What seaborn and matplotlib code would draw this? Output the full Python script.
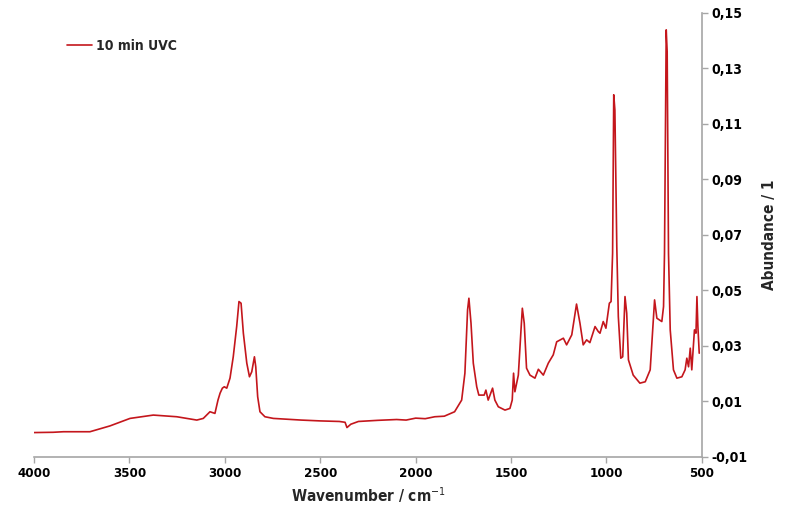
import seaborn as sns
import matplotlib.pyplot as plt
import pandas as pd

# spectrum
wavenumber = [4000, 3900, 3846, 3707, 3602, 3497, 3375, 3252, 3147, 3113, 3078, 3052, 3036,
              3025, 3013, 3003, 2990, 2973, 2956, 2938, 2926, 2915, 2903, 2885, 2871, 2859,
              2845, 2838, 2828, 2816, 2790, 2746, 2600, 2500, 2400, 2370, 2360, 2340, 2300,
              2200, 2100, 2050, 2000, 1950, 1900, 1850, 1796, 1759, 1742, 1728, 1721, 1710,
              1698, 1680, 1669, 1641, 1632, 1620, 1597, 1585, 1567, 1532, 1506, 1494, 1487,
              1480, 1462, 1448, 1441, 1431, 1419, 1401, 1375, 1357, 1331, 1305, 1279, 1261,
              1226, 1209, 1182, 1157, 1139, 1122, 1104, 1087, 1060, 1043, 1034, 1017, 1003,
              985, 976, 968, 962, 956, 946, 938, 925, 915, 903, 894, 885, 860, 825, 797,
              771, 759, 748, 736, 710, 701, 696, 687, 682, 675, 666, 649, 631, 605, 588,
              579, 570, 561, 553, 539, 531, 526, 521, 514]
absorbance = [-0.0012, -0.0011, -0.0009, -0.0009, 0.0012, 0.0039, 0.0051, 0.0045, 0.0033, 0.0039, 0.0063, 0.0057, 0.0105,
              0.0130, 0.0148, 0.0153, 0.0148, 0.0184, 0.0261, 0.0370, 0.0460, 0.0454, 0.0346, 0.0238, 0.0189, 0.0207,
              0.0261, 0.0225, 0.0117, 0.0063, 0.0045, 0.0039, 0.0033, 0.0030, 0.0028, 0.0025, 0.0006, 0.0018, 0.0028,
              0.0032, 0.0035, 0.0033, 0.0040, 0.0038, 0.0045, 0.0047, 0.0063, 0.0105, 0.0202, 0.0430, 0.0472, 0.0382,
              0.0238, 0.0153, 0.0123, 0.0123, 0.0141, 0.0105, 0.0148, 0.0105, 0.0081, 0.0069, 0.0075, 0.0105, 0.0202,
              0.0135, 0.0195, 0.0358, 0.0436, 0.0382, 0.0220, 0.0195, 0.0184, 0.0216, 0.0195, 0.0238, 0.0268, 0.0315,
              0.0328, 0.0304, 0.0340, 0.0451, 0.0382, 0.0304, 0.0322, 0.0312, 0.0370, 0.0352, 0.0346, 0.0388, 0.0364,
              0.0454, 0.0460, 0.0634, 0.1205, 0.1150, 0.0658, 0.0406, 0.0256, 0.0261, 0.0478, 0.0418, 0.0250, 0.0195, 0.0166, 0.0171,
              0.0214, 0.0346, 0.0466, 0.0400, 0.0388, 0.0442, 0.0634, 0.1439, 0.1360, 0.0634, 0.0358, 0.0214, 0.0184, 0.0189, 0.0214,
              0.0256, 0.0225, 0.0292, 0.0214, 0.0358, 0.0346, 0.0478, 0.0370, 0.0274]

x_ticks = [4000, 3500, 3000, 2500, 2000, 1500, 1000, 500]
y_ticks = [-0.01, 0.01, 0.03, 0.05, 0.07, 0.09, 0.11, 0.13, 0.15]
y_labels = ["-0,01", "0,01", "0,03", "0,05", "0,07", "0,09", "0,11", "0,13", "0,15"]

sns.set_style("white")
plt.rcParams['font.family'] = ['DejaVu Sans']
plt.rcParams['font.stretch'] = 'condensed'

df = pd.DataFrame({'Wavenumber': wavenumber, 'Abundance': absorbance})

fig = plt.figure(figsize=(7.86, 5.11), dpi=100)
ax = fig.add_axes([0.0433, 0.1057, 0.8497, 0.869])
sns.lineplot(data=df, x='Wavenumber', y='Abundance', color='#c4161c', linewidth=1.2,
             label='10 min UVC', ax=ax)

ax.set_xlim(4000, 500)
ax.set_ylim(-0.01, 0.15)
ax.set_xticks(x_ticks)
ax.set_xticklabels([str(t) for t in x_ticks], fontweight='bold', fontsize=9.5)
ax.set_yticks(y_ticks)
ax.set_yticklabels(y_labels, fontweight='bold', fontsize=10)

ax.yaxis.tick_right()
ax.yaxis.set_label_position('right')
for s in ['top', 'left']:
    ax.spines[s].set_visible(False)
for s in ['bottom', 'right']:
    ax.spines[s].set_color('#a6a6a6')
    ax.spines[s].set_linewidth(1.2)
ax.tick_params(axis='both', which='both', direction='out', length=4, width=1,
               color='#a6a6a6', labelcolor='black', pad=3)
ax.tick_params(axis='y', right=True, left=False)
ax.tick_params(axis='x', bottom=True)

ax.set_xlabel('Wavenumber / cm$^{-1}$', fontweight='bold', fontsize=11, labelpad=4)
ax.set_ylabel('Abundance / 1', fontweight='bold', fontsize=11, labelpad=10)

leg = ax.legend(loc='upper left', bbox_to_anchor=(0.03, 0.97), frameon=False,
                handlelength=1.8, handletextpad=0.3, prop={'weight': 'bold', 'size': 10})

fig.savefig('out.png', dpi=100)
